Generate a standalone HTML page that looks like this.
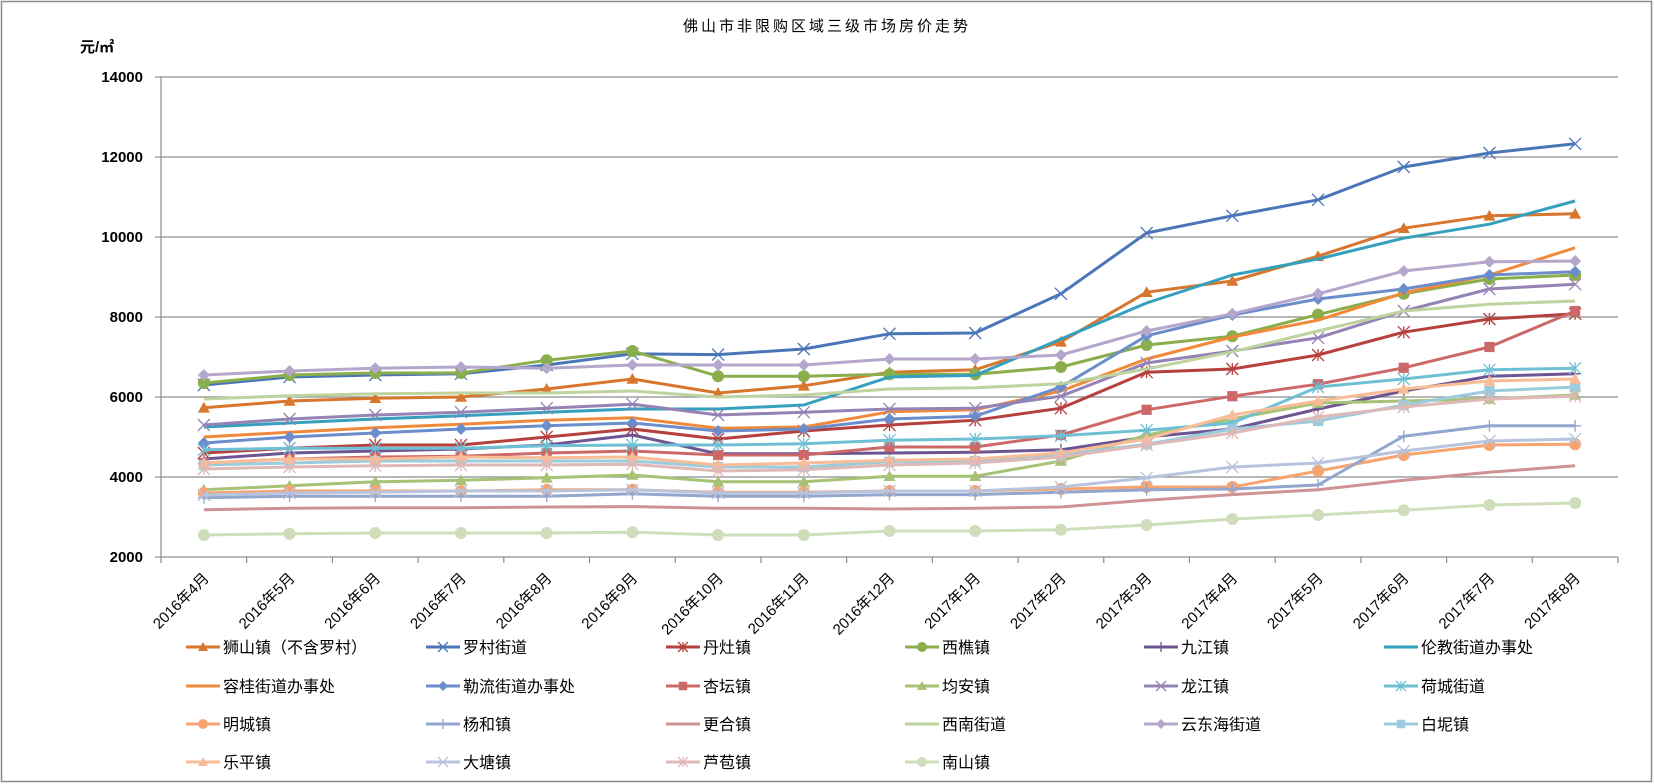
<!DOCTYPE html>
<html><head><meta charset="utf-8"><style>
html,body{margin:0;padding:0;background:#fff}
svg{display:block}
text{font-family:"Liberation Sans","Noto Sans CJK SC",sans-serif}
</style></head><body>
<svg id="chart" width="1654" height="784" viewBox="0 0 1654 784" xmlns="http://www.w3.org/2000/svg">
<rect x="1.5" y="1.5" width="1650" height="780" fill="#fff" stroke="#8c8c8c" stroke-width="1.5"/>
<text x="827" y="31" text-anchor="middle" font-size="15" letter-spacing="3">佛山市非限购区域三级市场房价走势</text>
<text x="80" y="52" font-size="15" font-weight="bold">元/㎡</text>
<g id="grid"></g><g id="axes"></g><g id="series"></g><g id="legend"></g>
</svg>
<script>
const categories=["2016年4月","2016年5月","2016年6月","2016年7月","2016年8月","2016年9月","2016年10月","2016年11月","2016年12月","2017年1月","2017年2月","2017年3月","2017年4月","2017年5月","2017年6月","2017年7月","2017年8月"];
const yTicks=[2000,4000,6000,8000,10000,12000,14000];
const seriesNames=["狮山镇（不含罗村）","罗村街道","丹灶镇","西樵镇","九江镇","伦教街道办事处","容桂街道办事处","勒流街道办事处","杏坛镇","均安镇","龙江镇","荷城街道","明城镇","杨和镇","更合镇","西南街道","云东海街道","白坭镇","乐平镇","大塘镇","芦苞镇","南山镇"];
const sShishan=[5730,5900,5970,6000,6200,6450,6100,6280,6620,6680,7380,8620,8900,9520,10220,10530,10580];
const sLuocun=[6300,6500,6550,6580,6800,7080,7060,7200,7580,7600,8580,10100,10530,10930,11750,12100,12330];
const sDanzao=[4600,4720,4800,4800,5000,5200,4950,5150,5300,5420,5720,6620,6700,7050,7620,7950,8080];
const sXiqiao=[6350,6550,6600,6600,6920,7150,6520,6520,6570,6570,6750,7300,7520,8060,8580,8950,9050];
const sJiujiang=[4450,4600,4650,4700,4800,5050,4580,4580,4600,4620,4680,5000,5200,5700,6150,6520,6580];
const sLunjiao=[5250,5350,5450,5530,5620,5700,5700,5800,6500,6540,7450,8350,9050,9450,9970,10320,10900];
const sRonggui=[5000,5120,5230,5320,5420,5480,5220,5250,5630,5680,6150,6950,7500,7920,8600,9050,9730];
const sLeliu=[4850,5000,5100,5200,5280,5350,5150,5200,5450,5520,6250,7530,8050,8450,8700,9050,9130];
const sXingtan=[4350,4450,4500,4520,4600,4650,4550,4550,4750,4750,5050,5680,6020,6320,6730,7250,8150];
const sJunan=[3680,3780,3880,3920,3980,4050,3880,3880,4020,4020,4400,5050,5450,5850,5900,5950,6050];
const sLongjiang=[5300,5450,5550,5620,5720,5820,5550,5620,5700,5720,6020,6850,7150,7480,8150,8700,8820];
const sHecheng=[4680,4720,4720,4720,4780,4800,4800,4830,4920,4950,5030,5170,5350,6250,6450,6680,6720];
const sMingcheng=[3600,3650,3650,3650,3680,3680,3620,3620,3650,3650,3700,3750,3750,4150,4550,4800,4820];
const sYanghe=[3480,3520,3520,3520,3520,3580,3520,3520,3560,3560,3620,3680,3700,3800,5020,5280,5280];
const sGenghe=[3180,3220,3230,3230,3250,3260,3220,3220,3200,3220,3250,3420,3560,3680,3920,4120,4280];
const sXinan=[5950,6030,6080,6100,6100,6150,6000,6050,6200,6230,6330,6700,7130,7650,8150,8320,8400];
const sYundonghai=[6550,6650,6720,6750,6720,6800,6800,6800,6950,6950,7050,7650,8080,8580,9150,9380,9400];
const sBaini=[4300,4350,4400,4400,4400,4400,4250,4250,4380,4400,4550,4820,5200,5400,5800,6150,6250];
const sLeping=[4350,4450,4450,4500,4480,4500,4300,4350,4420,4450,4600,4950,5550,5900,6200,6400,6450];
const sDatang=[3550,3600,3620,3650,3650,3680,3600,3600,3650,3650,3750,3980,4250,4350,4650,4900,4950];
const sLubao=[4200,4250,4280,4300,4300,4320,4150,4180,4300,4350,4500,4800,5100,5500,5750,5950,6020];
const sNanshan=[2550,2580,2600,2600,2600,2620,2550,2550,2650,2650,2680,2800,2950,3050,3170,3300,3350];
const seriesValues=[sShishan,sLuocun,sDanzao,sXiqiao,sJiujiang,sLunjiao,sRonggui,sLeliu,sXingtan,sJunan,sLongjiang,sHecheng,sMingcheng,sYanghe,sGenghe,sXinan,sYundonghai,sBaini,sLeping,sDatang,sLubao,sNanshan];
const colors=["#D9762D","#4A76B8","#B6403E","#89AE4B","#6D5592","#35A0BD","#F08A3A","#6B8DCB","#CD6868","#A6C274","#9483B4","#6FC0D4","#F7A470","#93A6CE","#D09393","#BFD39E","#B4A7CB","#9ACCDD","#F8BC97","#B8C4DE","#DFB8B8","#CEDDBA"];
const markers=["tri","x","star","circle","plus","none","none","diamond","square","tri","x","star","circle","plus","none","none","diamond","square","tri","x","star","circle"];
const NS="http://www.w3.org/2000/svg";
const L=161,R=1618,T=77,B=557,yMin=2000,yMax=14000;
const bw=(R-L)/categories.length;
function xs(i){return L+bw*(i+0.5);}
function ys(v){return B-(v-yMin)/(yMax-yMin)*(B-T);}
function mk(tag,attrs,parent){const e=document.createElementNS(NS,tag);for(const k in attrs)e.setAttribute(k,attrs[k]);parent.appendChild(e);return e;}
const grid=document.getElementById('grid'),axes=document.getElementById('axes'),ser=document.getElementById('series'),leg=document.getElementById('legend');
yTicks.forEach(t=>{
  const y=ys(t);
  if(t>yMin){const g=mk('line',{x1:L,x2:R,y1:y,y2:y,stroke:'#8c8c8c','stroke-width':1.2},grid);
  
  }
  const tk=mk('line',{x1:L-6,x2:L,y1:y,y2:y,stroke:'#8c8c8c','stroke-width':1.2},axes);
  
  
  const tx=mk('text',{x:L-18,y:y+5,'text-anchor':'end','font-size':15,'font-weight':'bold'},axes);
  tx.textContent=t;
  
  
});
const ya=mk('line',{x1:L,x2:L,y1:T,y2:B,stroke:'#8c8c8c','stroke-width':1.2},axes);


const xa=mk('line',{x1:L,x2:R,y1:B,y2:B,stroke:'#8c8c8c','stroke-width':1.2},axes);


for(let i=0;i<=categories.length;i++){
  const x=L+bw*i;
  const tk=mk('line',{x1:x,x2:x,y1:B,y2:B+6,stroke:'#8c8c8c','stroke-width':1.2},axes);
  
  
}
categories.forEach((c,i)=>{
  const x=xs(i)+6,y=B+22;
  const tx=mk('text',{x:x,y:y,'text-anchor':'end','font-size':15,transform:`rotate(-45 ${x} ${y})`},axes);
  tx.textContent=c;
  
  
});
function drawMarker(type,x,y,col,parent,s){
  let e=null;
  if(type==='tri')e=mk('polygon',{points:`${x},${y-s} ${x-s},${y+s*0.8} ${x+s},${y+s*0.8}`,fill:col},parent);
  else if(type==='circle')e=mk('circle',{cx:x,cy:y,r:s,fill:col},parent);
  else if(type==='diamond')e=mk('polygon',{points:`${x},${y-s} ${x+s},${y} ${x},${y+s} ${x-s},${y}`,fill:col},parent);
  else if(type==='square')e=mk('rect',{x:x-s*0.85,y:y-s*0.85,width:s*1.7,height:s*1.7,fill:col},parent);
  else if(type==='x')e=mk('path',{d:`M${x-s} ${y-s}L${x+s} ${y+s}M${x-s} ${y+s}L${x+s} ${y-s}`,stroke:col,'stroke-width':1.3,fill:'none'},parent);
  else if(type==='plus')e=mk('path',{d:`M${x-s} ${y}L${x+s} ${y}M${x} ${y-s}L${x} ${y+s}`,stroke:col,'stroke-width':1.3,fill:'none'},parent);
  else if(type==='star')e=mk('path',{d:`M${x-s} ${y-s}L${x+s} ${y+s}M${x-s} ${y+s}L${x+s} ${y-s}M${x} ${y-s}L${x} ${y+s}`,stroke:col,'stroke-width':1.3,fill:'none'},parent);
  if(e){
  }
}
seriesValues.forEach((vals,si)=>{
  const g=mk('g',{},ser);
  
  
  const d=vals.map((v,i)=>(i?'L':'M')+xs(i).toFixed(1)+' '+ys(v).toFixed(1)).join('');
  const p=mk('path',{d:d,stroke:colors[si],'stroke-width':3,fill:'none','stroke-linejoin':'round'},g);
  
  
  vals.forEach((v,i)=>drawMarker(markers[si],xs(i),ys(v),colors[si],g,6));
});
const rowsY=[647,686,724,762],colX=[186,426,666,905,1144,1384];
seriesNames.forEach((n,si)=>{
  const r=Math.floor(si/6),c=si%6,x=colX[c],y=rowsY[r];
  const g=mk('g',{},leg);
  
  
  mk('line',{x1:x,x2:x+34,y1:y,y2:y,stroke:colors[si],'stroke-width':3},g);
  drawMarker(markers[si],x+17,y,colors[si],g,5);
  const t=mk('text',{x:x+37,y:y+6,'font-size':16},g);
  t.textContent=n;
  
  
});
</script>
</body></html>
